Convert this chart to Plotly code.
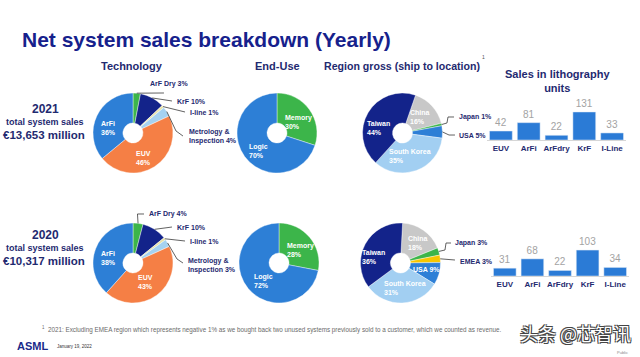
import math
import plotly.graph_objects as go

W, H = 640, 357
FONT = "Liberation Sans, Arial, sans-serif"
NAVY = "#1f2a70"
TITLE_NAVY = "#16218c"

# ---------------- data ----------------
tech_labels = ["ArF Dry", "KrF", "I-line", "Metrology & Inspection", "EUV", "ArFi"]
tech_2021 = [3, 10, 1, 4, 46, 36]
tech_2020 = [4, 10, 1, 3, 43, 38]

enduse_labels = ["Memory", "Logic"]
enduse_2021 = [30, 70]
enduse_2020 = [28, 72]

region_labels_2021 = ["China", "Japan", "USA", "South Korea", "Taiwan"]
region_2021 = [16, 1, 5, 35, 44]
region_labels_2020 = ["China", "Japan", "EMEA", "USA", "South Korea", "Taiwan"]
region_2020 = [18, 3, 3, 9, 31, 36]

litho_cats = ["EUV", "ArFi", "ArFdry", "KrF", "I-Line"]
litho_2021 = [42, 81, 22, 131, 33]
litho_2020 = [31, 68, 22, 103, 34]

years = ["2021", "2020"]
total_sales = ["€13,653 million", "€10,317 million"]

COL = {
    "ArF Dry": "#3cb54a", "KrF": "#13238a", "I-line": "#e8e3a8",
    "Metrology & Inspection": "#a5d2f1", "EUV": "#f57f45", "ArFi": "#2d7fd6",
    "Memory": "#3cb54a", "Logic": "#2d7fd6",
    "China": "#c8c8c8", "Japan": "#3cb54a", "USA": "#2d7fd6",
    "South Korea": "#a2cff2", "Taiwan": "#13238a", "EMEA": "#f7c600",
}
BAR_COLOR = "#2b7bd6"

fig = go.Figure()
shapes = []
annotations = []


def px(x, y):
    return x / W, 1 - y / H


def text(t, x, y, size, color=NAVY, bold=True, xanchor="center", family=FONT, **kw):
    xx, yy = px(x, y)
    annotations.append(dict(text=t, x=xx, y=yy, xref="paper", yref="paper",
                            showarrow=False, xanchor=xanchor, yanchor="middle",
                            font=dict(size=size, color=color, family=family,
                                      weight="bold" if bold else "normal"), **kw))


def add_pie(labels, values, cx, cy, r, rotation, inside_pos, oneline=()):
    fig.add_trace(go.Pie(
        labels=labels, values=values, sort=False, direction="clockwise",
        rotation=rotation, hole=0.25,
        domain=dict(x=[(cx - r) / W, (cx + r) / W], y=[1 - (cy + r) / H, 1 - (cy - r) / H]),
        marker=dict(colors=[COL[l] for l in labels], line=dict(color="white", width=0.4)),
        textinfo="none", textposition="none",
        showlegend=False, hoverinfo="skip",
    ))
    # in-slice labels (label + value), placed at offsets from the pie centre
    for lab, val in zip(labels, values):
        if lab in inside_pos:
            dx, dy = inside_pos[lab]
            sep = " " if lab in oneline else "<br>"
            text("%s%s%d%%" % (lab, sep, val), cx + dx, cy + dy, 7, color="white", align="left")


def slice_edge(values, idx, cx, cy, r, rotation):
    total = sum(values)
    mid = rotation + (sum(values[:idx]) + values[idx] / 2) / total * 360
    a = math.radians(mid)
    return cx + r * math.sin(a), cy - r * math.cos(a)


def leader(values, idx, cx, cy, r, rotation, pts):
    ex, ey = slice_edge(values, idx, cx, cy, r, rotation)
    allp = [(ex, ey)] + pts
    path = "M " + " L ".join("%.4f,%.4f" % px(x, y) for x, y in allp)
    shapes.append(dict(type="path", xref="paper", yref="paper", path=path,
                       line=dict(color="#3a3a3a", width=0.8)))


R = 40
# ---- 2021 pies ----
add_pie(tech_labels, tech_2021, 133, 133, R, 0, {"ArFi": (-25, -5), "EUV": (10, 25)})
add_pie(enduse_labels, enduse_2021, 277, 133, R, 0, {"Memory": (21, -11), "Logic": (-19, 18)})
add_pie(region_labels_2021, region_2021, 402.5, 133, R, 19,
        {"China": (17, -16), "Taiwan": (-24, -5), "South Korea": (7, 23)})
# ---- 2020 pies ----
add_pie(tech_labels, tech_2020, 133, 263, R, 0, {"ArFi": (-25, -5), "EUV": (12, 19)})
add_pie(enduse_labels, enduse_2020, 279, 263, R, 0, {"Memory": (21, -13), "Logic": (-16, 18)})
add_pie(region_labels_2020, region_2020, 400.5, 263, R, 3,
        {"China": (17, -20), "Taiwan": (-27, -6), "USA": (26, 6), "South Korea": (4, 25)},
        oneline=("USA",))

# ---- outside labels: technology 2021 ----
leader(tech_2021, 0, 133, 133, R, 0, [(164, 93)])
text("ArF Dry 3%", 148, 84, 7, xanchor="left")
leader(tech_2021, 1, 133, 133, R, 0, [(172, 101)])
text("KrF 10%", 175, 101, 7, xanchor="left")
leader(tech_2021, 2, 133, 133, R, 0, [(185, 112)])
text("I-line 1%", 188, 112, 7, xanchor="left")
leader(tech_2021, 3, 133, 133, R, 0, [(176, 131), (183, 136)])
text("Metrology &amp;<br>Inspection 4%", 187, 136, 7, xanchor="left", align="left")

# ---- outside labels: technology 2020 ----
leader(tech_2020, 0, 133, 263, R, 0, [(137.5, 214), (144, 214)])
text("ArF Dry 4%", 147, 214, 7, xanchor="left")
leader(tech_2020, 1, 133, 263, R, 0, [(172, 227)])
text("KrF 10%", 175, 227, 7, xanchor="left")
leader(tech_2020, 2, 133, 263, R, 0, [(185, 241)])
text("I-line 1%", 188, 241, 7, xanchor="left")
leader(tech_2020, 3, 133, 263, R, 0, [(177, 259), (183, 263)])
text("Metrology &amp;<br>Inspection 3%", 186, 265, 7, xanchor="left", align="left")

# ---- outside labels: region ----
leader(region_2021, 1, 402.5, 133, R, 19, [(447, 123), (448, 117), (454, 117)])
text("Japan 1%", 457, 117, 7, xanchor="left")
leader(region_2021, 2, 402.5, 133, R, 19, [(449, 135), (455, 135)])
text("USA 5%", 457, 135, 7, xanchor="left")
leader(region_2020, 1, 400.5, 263, R, 3, [(445, 250), (446, 243), (451, 243)])
text("Japan 3%", 453, 243, 7, xanchor="left")
leader(region_2020, 2, 400.5, 263, R, 3, [(455, 260)])
text("EMEA 3%", 458, 261, 7, xanchor="left")

# ---- bar charts ----
for yvals, xa, ya in [(litho_2021, "x", "y"), (litho_2020, "x2", "y2")]:
    fig.add_trace(go.Bar(x=litho_cats, y=yvals, marker_color=BAR_COLOR,
                         text=yvals, textposition="outside", cliponaxis=False,
                         textfont=dict(color="#a3a3a3", size=10, family=FONT),
                         xaxis=xa, yaxis=ya, showlegend=False, hoverinfo="skip"))

axis_common = dict(type="category", showline=True, linecolor="#d6d6d6", linewidth=1,
                   ticks="", showgrid=False, zeroline=False,
                   tickfont=dict(size=8, color=NAVY, family=FONT, weight="bold"))
yaxis_common = dict(visible=False, showgrid=False, zeroline=False)

# ---- texts ----
text("Net system sales breakdown (Yearly)", 20, 39, 21, color=TITLE_NAVY, xanchor="left")
text("Technology", 132, 66, 11)
text("End-Use", 277, 66, 11)
text("Region gross (ship to location)", 402, 66, 10.6)
text("1", 483, 57, 5, color="#555555", bold=False)
text("Sales in lithography<br>units", 557, 81.5, 11)

for i, (yr, ts) in enumerate(zip(years, total_sales)):
    base = 109 if i == 0 else 235
    text(yr, 45, base, 12)
    text("total system sales", 45, base + 13, 9)
    text(ts, 44, base + 26, 11.5)

text("<sup>1</sup>  2021: Excluding EMEA region which represents negative 1% as we bought back two unused "
     "systems previously sold to a customer, which we counted as revenue.",
     40, 329, 6.3, color="#6b6b6b", bold=False, xanchor="left")
text("ASML", 15, 346, 11, color="#1a2a8a", xanchor="left")
text("January 19, 2022", 55, 346, 4.5, color="#333333", bold=False, xanchor="left")
text("Public", 630, 352, 4, color="#888888", bold=False, xanchor="right")

# watermark
wx, wy = px(575, 333)
annotations.append(dict(text="头条 @芯智讯", x=wx, y=wy, xref="paper", yref="paper",
                        showarrow=False, xanchor="center", yanchor="middle",
                        font=dict(size=18, color="white", family="Noto Sans CJK SC",
                                  shadow="1px 1px 0 #444, -1px -1px 0 #444, 1px -1px 0 #444, -1px 1px 0 #444")))

fig.update_layout(
    width=W, height=H, margin=dict(l=0, r=0, t=0, b=0),
    paper_bgcolor="white", plot_bgcolor="rgba(0,0,0,0)",
    bargap=0.18, font=dict(family=FONT),
    xaxis=dict(domain=[487 / W, 626 / W], anchor="y", **axis_common),
    yaxis=dict(domain=[1 - 140 / H, 1 - 100 / H], range=[0, 187], anchor="x", **yaxis_common),
    xaxis2=dict(domain=[491 / W, 629 / W], anchor="y2", **axis_common),
    yaxis2=dict(domain=[1 - 276 / H, 1 - 236 / H], range=[0, 158.7], anchor="x2", **yaxis_common),
    shapes=shapes, annotations=annotations,
)

fig.write_html("out.html", config={"displayModeBar": False},
               post_script="document.body.style.margin='0';document.body.style.overflow='hidden';")
